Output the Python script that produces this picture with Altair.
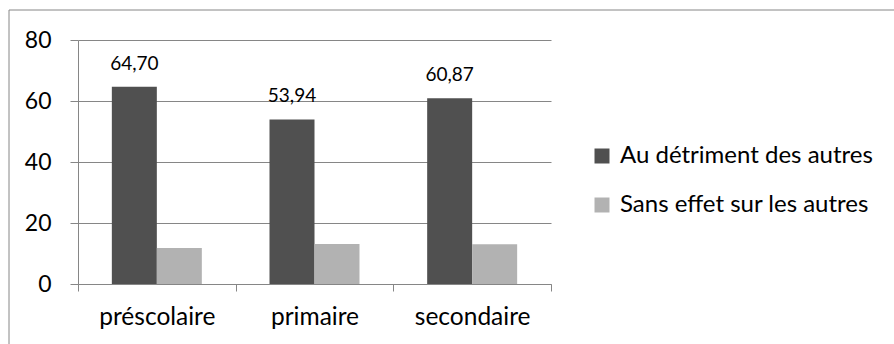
import altair as alt
import pandas as pd

# Chart values
categories = ["préscolaire", "primaire", "secondaire"]
series = ["Au détriment des autres", "Sans effet sur les autres"]
au_detriment = [64.70, 53.94, 60.87]
sans_effet = [11.8, 13.1, 13.0]
y_ticks = [0, 20, 40, 60, 80]

rows = []
for cat, a, b in zip(categories, au_detriment, sans_effet):
    rows.append({"niveau": cat, "serie": series[0], "valeur": a})
    rows.append({"niveau": cat, "serie": series[1], "valeur": b})
df = pd.DataFrame(rows)
df["etiquette"] = df["valeur"].map(lambda v: f"{v:.2f}".replace(".", ","))

FONT = "Lato"
GRID = "#868686"

x_enc = alt.X(
    "niveau:N",
    sort=categories,
    scale=alt.Scale(paddingInner=0, paddingOuter=0),
    axis=alt.Axis(
        title=None,
        labelAngle=0,
        labelFontSize=24.5,
        labelFont=FONT,
        labelColor="#000000",
        labelPadding=14,
        tickBand="extent",
        tickSize=7,
        tickColor=GRID,
        domainColor=GRID,
        grid=False,
    ),
)
xoff_enc = alt.XOffset("serie:N", sort=series, scale=alt.Scale(paddingInner=0, paddingOuter=0.752))
y_enc = alt.Y(
    "valeur:Q",
    scale=alt.Scale(domain=[0, 80], nice=False),
    axis=alt.Axis(
        title=None,
        values=y_ticks,
        labelFontSize=23,
        labelFont=FONT,
        labelColor="#000000",
        labelPadding=19,
        tickSize=8,
        tickColor=GRID,
        domainColor=GRID,
        gridColor=GRID,
        gridOpacity=1,
    ),
)

bars = alt.Chart(df).mark_bar().encode(
    x=x_enc,
    xOffset=xoff_enc,
    y=y_enc,
    color=alt.Color(
        "serie:N",
        sort=series,
        scale=alt.Scale(domain=series, range=["#505050", "#b2b2b2"]),
        legend=alt.Legend(
            title=None,
            orient="none",
            legendX=512,
            legendY=104,
            padding=0,
            symbolType="square",
            symbolSize=225,
            symbolStrokeWidth=0,
            labelFont=FONT,
            labelFontSize=24,
            labelColor="#000000",
            labelOffset=6,
            labelLimit=500,
            rowPadding=25,
        ),
    ),
)

labels = (
    alt.Chart(df)
    .transform_filter(alt.datum.serie == series[0])
    .mark_text(font=FONT, fontSize=19, color="#000000", baseline="middle", dy=-23)
    .encode(x=alt.X("niveau:N", sort=categories), xOffset=alt.XOffset("serie:N", sort=series), y="valeur:Q", text="etiquette:N")
)

# Outer frame of the chart area (top and left edges)
frame_data = alt.Data(values=[{}])
frame_top = alt.Chart(frame_data).mark_rule(color=GRID, strokeWidth=1).encode(
    x=alt.value(-69), x2=alt.value(820), y=alt.value(-30)
)
frame_left = alt.Chart(frame_data).mark_rule(color=GRID, strokeWidth=1).encode(
    x=alt.value(-69), y=alt.value(-30), y2=alt.value(310)
)

chart = (
    alt.layer(bars, labels, frame_top, frame_left)
    .properties(
        width=473,
        height=244,
        autosize=alt.AutoSizeParams(type="none"),
        padding={"left": 78, "top": 40, "right": 343, "bottom": 60},
        background="#ffffff",
    )
    .configure_view(stroke=None)
)

chart.save("out.html", embed_options={"renderer": "svg", "actions": False})
